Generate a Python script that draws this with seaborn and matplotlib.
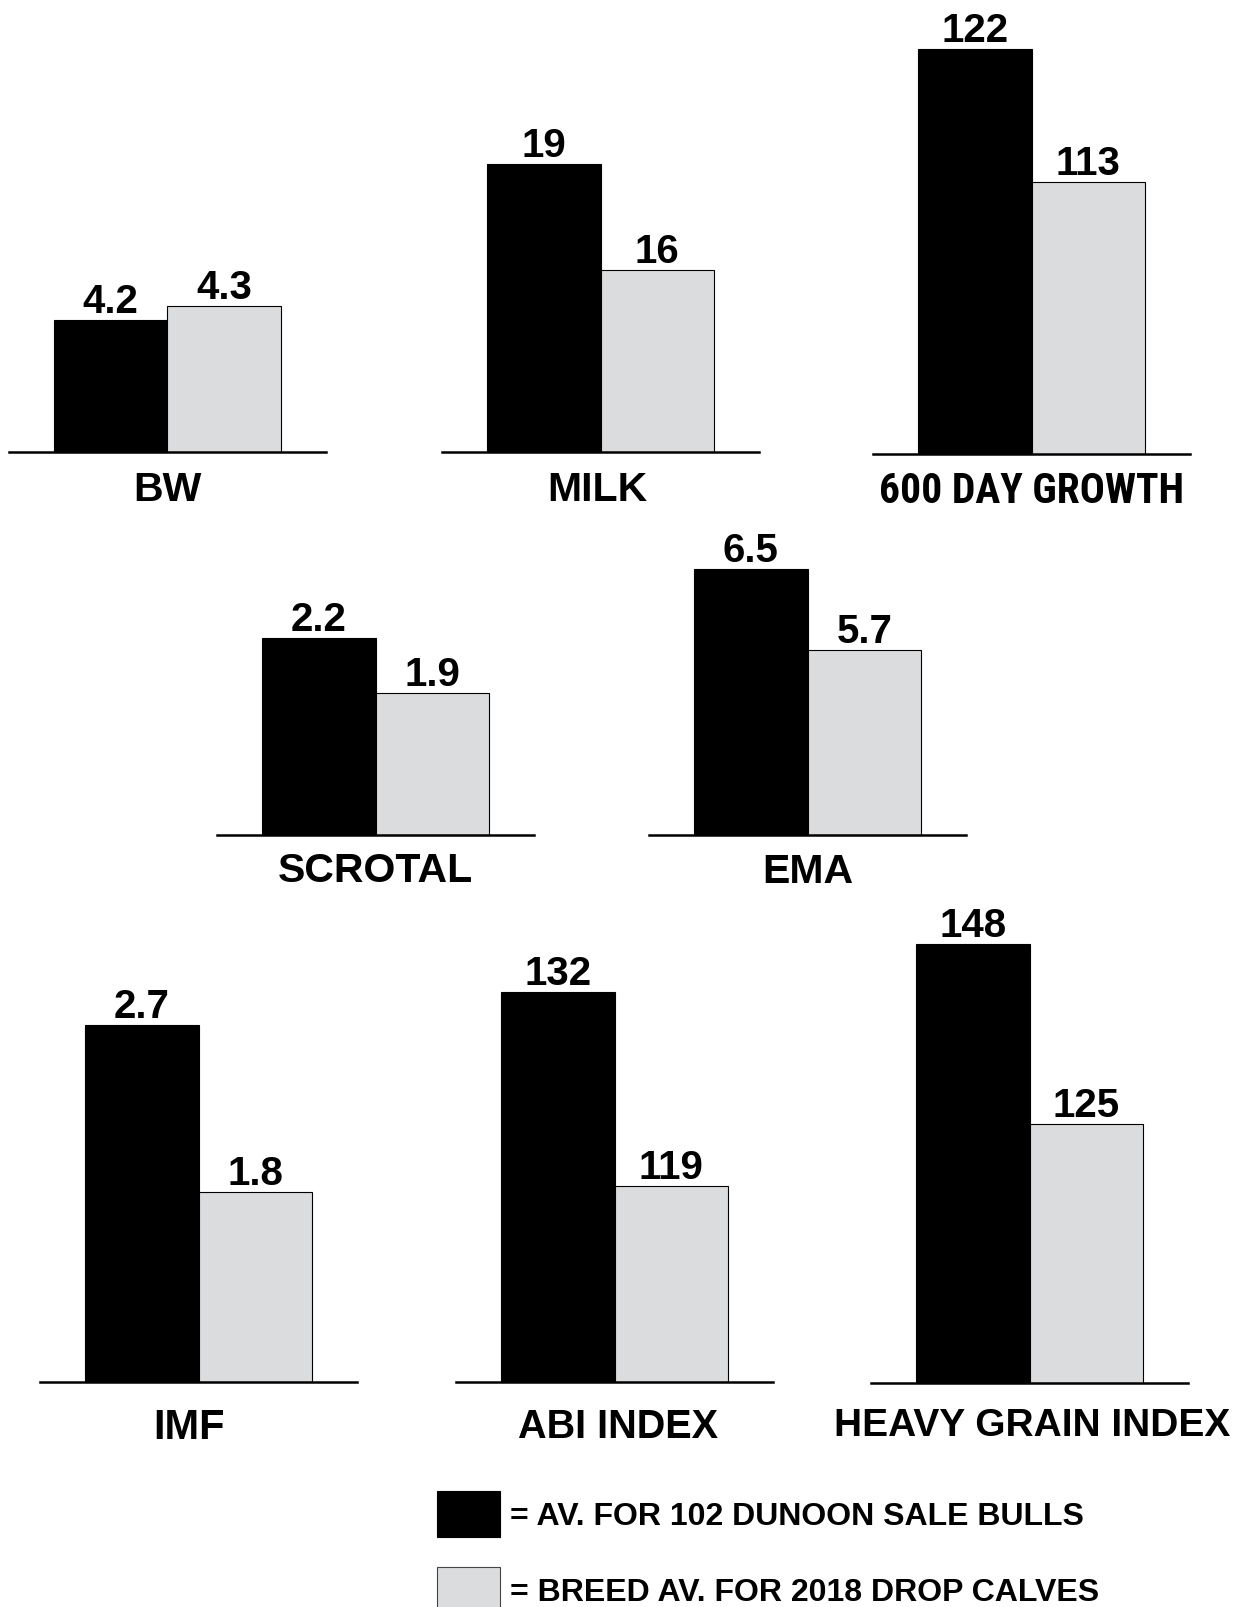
import pandas as pd
import matplotlib.pyplot as plt
import seaborn as sns
from matplotlib.patches import Patch

# Data
traits = ['BW', 'MILK', '600 DAY GROWTH', 'SCROTAL', 'EMA',
          'IMF', 'ABI INDEX', 'HEAVY GRAIN INDEX']
sale_bulls = [4.2, 19, 122, 2.2, 6.5, 2.7, 132, 148]
breed_avg = [4.3, 16, 113, 1.9, 5.7, 1.8, 119, 125]
series_labels = ['= AV. FOR 102 DUNOON SALE BULLS',
                 '= BREED AV. FOR 2018 DROP CALVES']

# Style
BLACK = '#000000'
GREY = '#dbdcde'
W, H = 1240, 1608
BAR_PX = 113.5   # width of one bar in pixels
AX_H = 450       # axes height in pixels

sns.set_style('white')
plt.rcParams['font.family'] = ['Liberation Sans', 'DejaVu Sans']
plt.rcParams['text.color'] = 'black'

# Layout per panel: left edge of black bar (px), baseline (px), y-range,
# label pad (pt), label size (pt), label x shift (px)
layout = [
    (54, 453, (3.257, 6.471), 12.8, 29.5, 0),
    (487, 453, (10.85, 23.59), 12.8, 29.5, -3),
    (918, 455, (94.6, 125.05), 11.4, 30, 0),
    (262, 836, (1.125, 3.58), 11.5, 29.5, 0),
    (694, 836, (3.873, 8.317), 12.5, 29.5, 0),
    (85, 1383, (0.776, 3.201), 18, 30, -9),
    (501, 1383, (105.86, 136.02), 18, 28.5, 3),
    (916, 1384, (91.9, 149.4), 17.5, 28, 3),
]

fig = plt.figure(figsize=(W / 100, H / 100), dpi=100)

for name, bull, breed, (bar_left, base, ylim, pad, size, shift) in zip(
        traits, sale_bulls, breed_avg, layout):
    x0 = bar_left - 0.4 * BAR_PX
    ax = fig.add_axes([x0 / W, 1 - base / H, 2.8 * BAR_PX / W, AX_H / H])
    df = pd.DataFrame({'series': ['bulls', 'breed'], 'value': [bull, breed]})
    sns.barplot(data=df, x='series', y='value', hue='series',
                palette=[BLACK, GREY], width=1, saturation=1,
                edgecolor='black', linewidth=0.8, legend=False, ax=ax)
    ax.set_xlim(-0.9, 1.9)
    ax.set_ylim(*ylim)
    for cont, v in zip(ax.containers, [bull, breed]):
        ax.bar_label(cont, labels=[f'{v:g}'], padding=0,
                     fontsize=29, fontweight='bold', color='black')
    sns.despine(ax=ax, left=True)
    ax.spines['bottom'].set_linewidth(1.8)
    ax.spines['bottom'].set_color('black')
    ax.set_yticks([])
    ax.set_ylabel('')
    ax.tick_params(axis='x', length=0, labelbottom=False)
    if name == '600 DAY GROWTH':
        # the original sets this one label in a condensed face
        ax.set_xlabel(name, fontsize=size, fontweight='bold', labelpad=pad,
                      color='black',
                      family=['Roboto Condensed', 'Liberation Sans'])
    else:
        ax.set_xlabel(name, fontsize=size, fontweight='bold', labelpad=pad,
                      color='black')
    ax.xaxis.label.set_x(0.5 + shift / (2.8 * BAR_PX))
    ax.patch.set_visible(False)

# Legend
handles = [Patch(facecolor=BLACK, edgecolor='black', linewidth=0.8),
           Patch(facecolor=GREY, edgecolor='#444444', linewidth=0.8)]
fig.legend(handles, series_labels, loc='upper left',
           bbox_to_anchor=(437 / W, 1 - 1492 / H), frameon=False,
           borderpad=0, borderaxespad=0,
           prop={'size': 23, 'weight': 'bold'},
           handlelength=1.97, handleheight=1.84, handletextpad=0.3,
           labelspacing=0.93)

plt.savefig('out.png', dpi=100)
